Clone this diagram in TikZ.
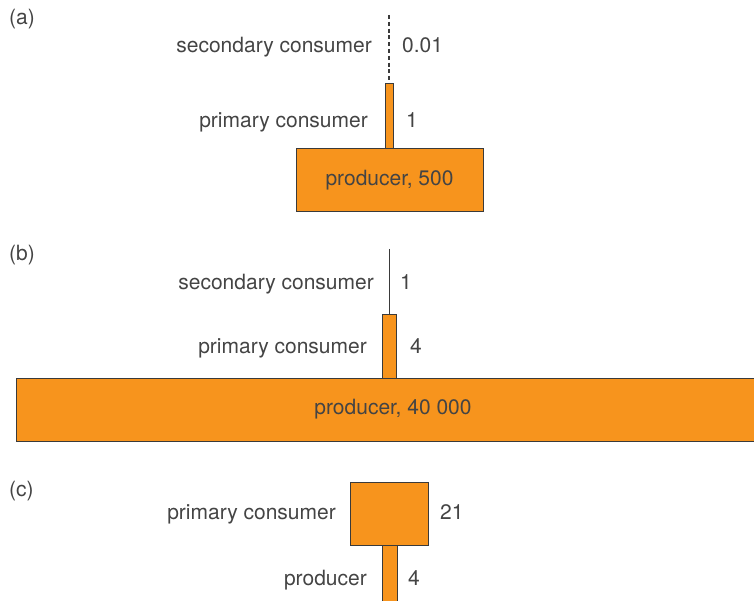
\documentclass[tikz,border=0pt]{standalone}
\usepackage{fontspec}
\setmainfont{TeX Gyre Heros}
\definecolor{orng}{HTML}{F7941D}
\definecolor{edge}{HTML}{3A3A3A}
\definecolor{txt}{HTML}{444444}
\begin{document}
\begin{tikzpicture}[x=1pt,y=-1pt,
  every node/.style={font=\fontsize{21}{25}\selectfont, text=txt, inner sep=0pt},
  box/.style={draw=edge, fill=orng, line width=1pt, rectangle},
  lbl/.style={anchor=mid east},
  val/.style={anchor=mid west},
  tag/.style={anchor=mid west},
  conn/.style={draw=edge, line width=1pt}]
\useasboundingbox (0,0) rectangle (754,601);
% (a)
\node[tag] (ta) at (9,22) {(a)};
\node[box, minimum width=187, minimum height=63] (a0) at (389.5,180.5) {producer, 500};
\node[box, minimum width=8, minimum height=65] (a1) at (389,116.5) {};
\coordinate (a2) at (389,15);
\draw[conn, line width=1.2pt, dash pattern=on 4pt off 2.8pt] (a2) -- (a1.north);
\node[lbl] (a2l) at (372,50) {secondary consumer};
\node[val] (a2v) at (402,50) {0.01};
\node[lbl] (a1l) at (368,125) {primary consumer};
\node[val] (a1v) at (406,125) {1};
% (b)
\node[tag] (tb) at (9,258) {(b)};
\node[box, minimum width=754, minimum height=63] (b0) at (393,409.5) {producer, 40 000};
\node[box, minimum width=14, minimum height=64] (b1) at (389,346) {};
\coordinate (b2) at (389,249);
\draw[conn] (b2) -- (b1.north);
\node[lbl] (b2l) at (374,287) {secondary consumer};
\node[val] (b2v) at (400,287) {1};
\node[lbl] (b1l) at (367,351) {primary consumer};
\node[val] (b1v) at (410,351) {4};
% (c)
\node[tag] (tc) at (9,494) {(c)};
\node[box, minimum width=15, minimum height=70] (c0) at (389.5,580) {};
\node[box, minimum width=78, minimum height=63] (c1) at (389,513.5) {};
\node[lbl] (c1l) at (336,517) {primary consumer};
\node[val] (c1v) at (440,517) {21};
\node[lbl] (c0l) at (367,583) {producer};
\node[val] (c0v) at (408,583) {4};
\end{tikzpicture}
\end{document}
